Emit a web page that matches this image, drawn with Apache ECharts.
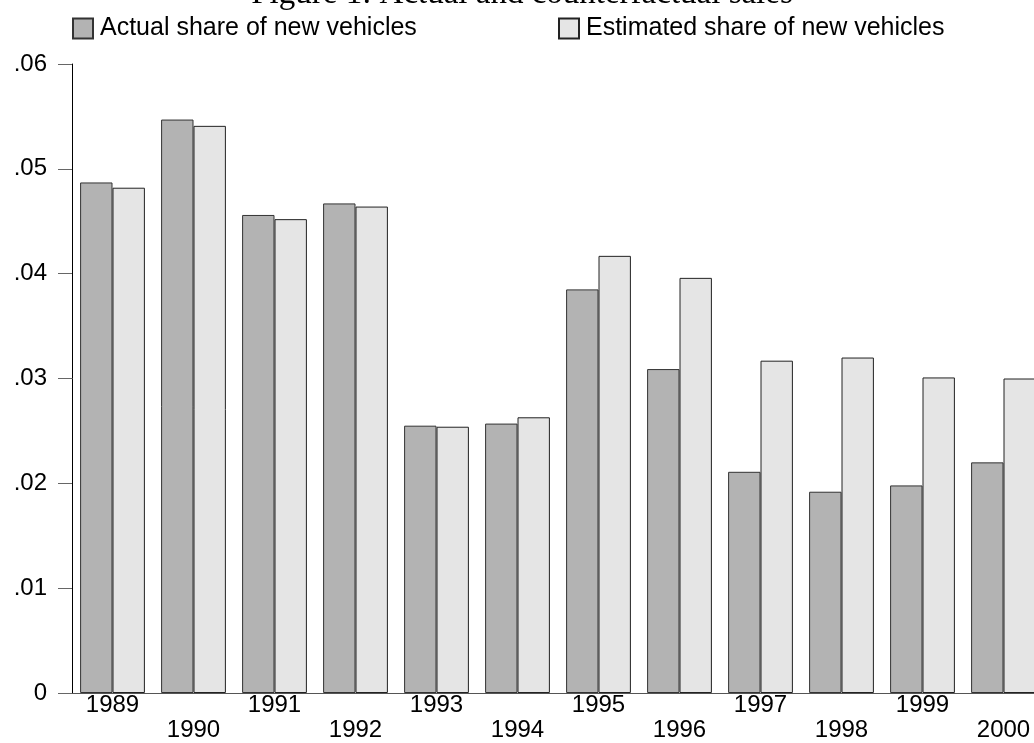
<!DOCTYPE html>
<html>
<head>
<meta charset="utf-8">
<script src="https://cdn.jsdelivr.net/npm/echarts@6/dist/echarts.min.js"></script>
<style>
  html, body { margin: 0; padding: 0; background: #fff; overflow: hidden; }
  #chart { width: 1044px; height: 743px; }
</style>
</head>
<body>
<div id="chart"></div>
<script>
var years = ["1989", "1990", "1991", "1992", "1993", "1994", "1995", "1996", "1997", "1998", "1999", "2000"];
var actualShare = [0.0487, 0.0547, 0.0456, 0.0467, 0.0255, 0.0257, 0.0385, 0.0309, 0.0211, 0.0192, 0.0198, 0.0220];
var estimatedShare = [0.0482, 0.0541, 0.0452, 0.0464, 0.0254, 0.0263, 0.0417, 0.0396, 0.0317, 0.0320, 0.0301, 0.0300];
var yTicks = [0, 0.01, 0.02, 0.03, 0.04, 0.05, 0.06];

var font = "'Liberation Sans', Arial, sans-serif";

// the plot runs a bit past the right edge of the window, like the reference
var myChart = echarts.init(document.getElementById("chart"));
var options = {
  backgroundColor: "#fff",
  animation: false,
  title: {
    text: "Figure 1: Actual and counterfactual sales",
    left: 'center',
    top: -27,
    textStyle: {
      fontFamily: "'Liberation Serif', 'Times New Roman', serif",
      fontWeight: "normal",
      fontSize: 33,
      color: "#000"
    }
  },
  legend: [
    {
      data: ["Actual share of new vehicles"],
      left: 72,
      top: 16,
      padding: 0,
      icon: "rect",
      itemWidth: 20,
      itemHeight: 20,
      itemGap: 0,
      textStyle: { fontFamily: font, fontSize: 25, color: "#000", padding: [0, 0, 0, 2] }
    },
    {
      data: ["Estimated share of new vehicles"],
      left: 558,
      top: 16,
      padding: 0,
      icon: "rect",
      itemWidth: 20,
      itemHeight: 20,
      itemGap: 0,
      textStyle: { fontFamily: font, fontSize: 25, color: "#000", padding: [0, 0, 0, 2] }
    }
  ],
  grid: {
    left: 72,
    top: 64,
    right: 0,
    bottom: 50,
    containLabel: false
  },
  xAxis: {
    type: "category",
    data: years,
    axisLine: { show: true, lineStyle: { color: "#555", width: 1 } },
    axisTick: { show: false },
    axisLabel: {
      interval: 0,
      margin: 0,
      fontFamily: font,
      fontSize: 24,
      color: "#000",
      lineHeight: 25,
      formatter: function (v, i) {
        return i % 2 ? "\n" + v : v;
      }
    },
    splitLine: { show: false }
  },
  yAxis: {
    type: "value",
    min: yTicks[0],
    max: yTicks[yTicks.length - 1],
    interval: 0.01,
    axisLine: { show: true, lineStyle: { color: "#000", width: 1 } },
    axisTick: { show: true, inside: false, length: 14, lineStyle: { color: "#666", width: 1 } },
    axisLabel: {
      margin: 25,
      fontFamily: font,
      fontSize: 24,
      color: "#000",
      formatter: function (v) {
        if (Math.abs(v) < 1e-9) return "0";
        return v.toFixed(2).replace(/^0/, "");
      }
    },
    splitLine: { show: false }
  },
  series: [
    {
      name: "Actual share of new vehicles",
      type: "bar",
      barGap: "0%",
      barCategoryGap: "20%",
      itemStyle: { color: "#b3b3b3", borderColor: "#333", borderWidth: 1 },
      data: actualShare
    },
    {
      name: "Estimated share of new vehicles",
      type: "bar",
      barGap: "0%",
      barCategoryGap: "20%",
      itemStyle: { color: "#e5e5e5", borderColor: "#222", borderWidth: 1 },
      data: estimatedShare
    }
  ]
};
myChart.setOption(options);
</script>
</body>
</html>
